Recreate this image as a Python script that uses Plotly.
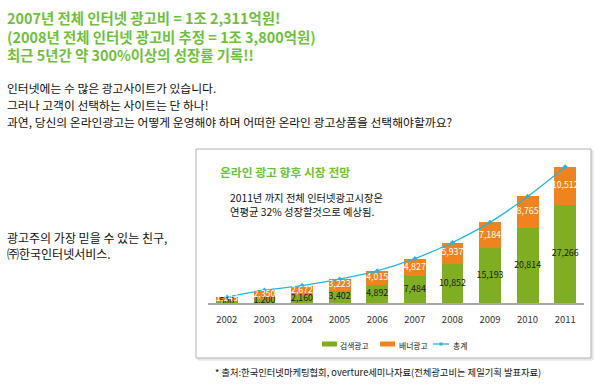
import plotly.graph_objects as go

years = ["2002", "2003", "2004", "2005", "2006", "2007", "2008", "2009", "2010", "2011"]
search_ads = [500, 1200, 2160, 3402, 4892, 7484, 10852, 15193, 20814, 27266]
banner_ads = [1143, 2350, 2672, 3223, 4015, 4827, 5937, 7184, 8765, 10512]
totals = [s + b for s, b in zip(search_ads, banner_ads)]
series_names = ["검색광고", "배너광고", "총계"]

header_lines = [
    "2007년 전체 인터넷 광고비 = 1조 2,311억원!",
    "(2008년 전체 인터넷 광고비 추정 = 1조 3,800억원)",
    "최근 5년간 약 300%이상의 성장률 기록!!",
]
body_lines = [
    "인터넷에는 수 많은 광고사이트가 있습니다.",
    "그러나 고객이 선택하는 사이트는 단 하나!",
    "과연, 당신의 온라인광고는 어떻게 운영해야 하며 어떠한 온라인 광고상품을 선택해야할까요?",
]
side_lines = ["광고주의 가장 믿을 수 있는 친구,", "㈜한국인터넷서비스."]
chart_title = "온라인 광고 향후 시장 전망"
chart_sub = ["2011년 까지 전체 인터넷광고시장은", "연평균 32% 성장할것으로 예상됨."]
footer = "* 출처:한국인터넷마케팅협회, overture세미나자료(전체광고비는 제일기획 발표자료)"

FONT = "Noto Sans CJK KR"
GREEN = "#7fae22"
ORANGE = "#ef8320"
CYAN = "#2ab4d9"
HEAD_GREEN = "#6fbf3e"

W, H = 600, 386
L, R, T, B = 208, 16, 160, 83
PW, PH = W - L - R, H - T - B


def px(x):
    return (x - L) / PW


def py(y):
    return (H - B - y) / PH


fig = go.Figure()
fig.add_trace(go.Bar(x=years, y=search_ads, name=series_names[0], marker=dict(color=GREEN, line=dict(width=0))))
fig.add_trace(go.Bar(x=years, y=banner_ads, name=series_names[1], marker=dict(color=ORANGE, line=dict(width=0))))
fig.add_trace(go.Scatter(x=years, y=totals, name=series_names[2], mode="lines+markers",
                         line=dict(color=CYAN, width=1.3, shape="spline"),
                         marker=dict(symbol="diamond", size=4, color=CYAN)))
# value labels
fig.add_trace(go.Scatter(x=years, y=[s / 2 for s in search_ads], mode="text",
                         text=[f"{v:,}" for v in search_ads], hoverinfo="skip",
                         textfont=dict(family=FONT, size=8.8, color="#1a1a1a")))
fig.add_trace(go.Scatter(x=years, y=[s + b / 2 for s, b in zip(search_ads, banner_ads)], mode="text",
                         text=[f"{v:,}" for v in banner_ads], hoverinfo="skip",
                         textfont=dict(family=FONT, size=8.8, color="white")))

ann = []
for i, t in enumerate(header_lines):
    ann.append(dict(text=t, x=px(5), y=py([17, 36, 54][i]), font=dict(size=14.4, color=HEAD_GREEN, family=FONT, weight="bold")))
for i, t in enumerate(body_lines):
    ann.append(dict(text=t, x=px(5), y=py([87, 104, 122][i]), font=dict(size=11.8, color="#111", family=FONT)))
for i, t in enumerate(side_lines):
    ann.append(dict(text=t, x=px(5), y=py([237, 253][i]), font=dict(size=12, color="#111", family=FONT)))
ann.append(dict(text=chart_title, x=px(218), y=py(171), font=dict(size=11.8, color=HEAD_GREEN, family=FONT, weight="bold")))
for i, t in enumerate(chart_sub):
    ann.append(dict(text=t, x=px(228), y=py([197, 211][i]), font=dict(size=10.3, color="#111", family=FONT)))
ann.append(dict(text=footer, x=px(213), y=py(372), font=dict(size=9.3, color="#111", family=FONT)))
# legend labels
for name, lx in zip(series_names, [338, 397, 451]):
    ann.append(dict(text=name, x=px(lx), y=py(345), font=dict(size=7.8, color="#222", family=FONT)))
for a in ann:
    a.update(xref="paper", yref="paper", xanchor="left", yanchor="middle", showarrow=False)

shapes = [
    dict(type="rect", xref="paper", yref="paper", x0=px(198), x1=px(593), y0=py(360), y1=py(151),
         line=dict(color="#e2e2e2", width=1), fillcolor="#e8e8e8", layer="below"),
    dict(type="rect", xref="paper", yref="paper", x0=px(196), x1=px(591), y0=py(358), y1=py(149),
         line=dict(color="#b4b4b4", width=1), fillcolor="white", layer="below"),
    # legend swatches
    dict(type="rect", xref="paper", yref="paper", x0=px(322), x1=px(337), y0=py(346.5), y1=py(341.5),
         line=dict(width=0), fillcolor=GREEN),
    dict(type="rect", xref="paper", yref="paper", x0=px(380), x1=px(395), y0=py(346.5), y1=py(341.5),
         line=dict(width=0), fillcolor=ORANGE),
    dict(type="line", xref="paper", yref="paper", x0=px(433), x1=px(449), y0=py(344), y1=py(344),
         line=dict(width=1.3, color=CYAN)),
    dict(type="rect", xref="paper", yref="paper", x0=px(439.5), x1=px(442.5), y0=py(345.5), y1=py(342.5),
         line=dict(width=0), fillcolor=CYAN),
]

fig.update_layout(
    width=W, height=H, margin=dict(l=L, r=R, t=T, b=B),
    paper_bgcolor="white", plot_bgcolor="rgba(0,0,0,0)",
    barmode="stack", bargap=0.42,
    font=dict(family=FONT, color="#222"),
    showlegend=False,
    annotations=ann, shapes=shapes,
)
fig.update_xaxes(type="category", range=[-0.5, 9.5], showline=True, linecolor="#a8a8a8", linewidth=2,
                 showgrid=False, ticks="", tickfont=dict(size=9.5, color="#333", family=FONT),
                 ticklabelstandoff=7, fixedrange=True)
fig.update_yaxes(range=[0, 39700], visible=False, showgrid=False, zeroline=False, fixedrange=True)

fig.write_html("out.html", config={"displayModeBar": False},
               post_script="document.body.style.margin='0';document.body.style.overflow='hidden';")
